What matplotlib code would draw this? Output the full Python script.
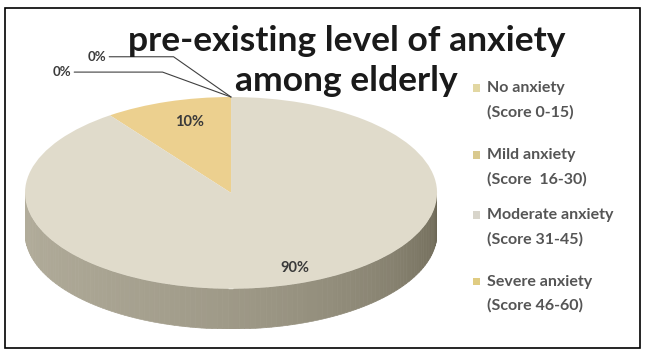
import numpy as np
import matplotlib
matplotlib.use("Agg")
import matplotlib.pyplot as plt
from matplotlib.patches import Polygon, Rectangle

# data
levels = ["No anxiety\n(Score 0-15)", "Mild anxiety\n(Score  16-30)",
          "Moderate anxiety\n(Score 31-45)", "Severe anxiety\n(Score 46-60)"]
shares = [0, 10, 90, 0]
colors = ["#e6d9a6", "#ecd08f", "#e0dbcb", "#e8cf86"]
legend_colors = ["#e2d7a2", "#d9c98e", "#d8d5cb", "#e0cc82"]

plt.rcParams["font.family"] = ["Lato", "DejaVu Sans"]

fig = plt.figure(figsize=(6.45, 3.55), dpi=100)
fig.patch.set_facecolor("white")
fig.patches.append(Rectangle((0.008, 0.02), 0.984, 0.958, transform=fig.transFigure,
                             fill=False, ec="black", lw=1.2))

ax = fig.add_axes([0.0388, 0.0732, 0.6388, 0.6535])
depth = 0.42

wedges, texts = ax.pie(shares, colors=colors, startangle=90, counterclock=True,
                       radius=1, wedgeprops=dict(linewidth=0))
ax.set_aspect("auto")
ax.set_xlim(-1, 1)
ax.set_ylim(-1 - depth, 1)
ax.axis("off")

# side of the disc, shaded strips
th = np.linspace(np.pi, 2 * np.pi, 120)
for i in range(len(th) - 1):
    a, b = th[i], th[i + 1]
    t = (i + 0.5) / (len(th) - 1)
    shade = 0.68 - 0.12 * t - 0.16 * t ** 3
    c = (shade + 0.02, shade, shade - 0.07)
    poly = Polygon([(np.cos(a), np.sin(a)), (np.cos(b), np.sin(b)),
                    (np.cos(b), np.sin(b) - depth), (np.cos(a), np.sin(a) - depth)],
                   closed=True, fc=c, ec=c, lw=0.5, zorder=0)
    ax.add_patch(poly)

# labels on the slices
lab_kw = dict(fontsize=10.5, fontweight="bold", color="#3a3a3a", ha="center", va="center")
ax.text(-0.2, 0.74, "10%", **lab_kw)
ax.text(0.31, -0.78, "90%", **lab_kw)
line_kw = dict(arrowstyle="-", color="#404040", lw=0.8, shrinkA=0, shrinkB=0)
ax.annotate("0%", xy=(0, 1), xytext=(-0.82, 1.26), ha="center", va="center",
            arrowprops=dict(connectionstyle="angle,angleA=0,angleB=-20,rad=0", **line_kw),
            fontsize=9.5, fontweight="bold", color="#3a3a3a", annotation_clip=False)
ax.annotate("0%", xy=(0, 1), xytext=(-0.65, 1.42), ha="center", va="center",
            arrowprops=dict(connectionstyle="angle,angleA=0,angleB=-35,rad=0", **line_kw),
            fontsize=9.5, fontweight="bold", color="#3a3a3a", annotation_clip=False)

title_kw = dict(ha="center", va="center", fontsize=25.5, fontweight="bold", color="#1a1a1a")
fig.text(0.537, 0.885, "pre-existing level of anxiety", **title_kw)
fig.text(0.537, 0.772, "among elderly", **title_kw)

# legend
pair_y = [0.717, 0.528, 0.359, 0.172]
for lab, c, y in zip(levels, legend_colors, pair_y):
    fig.patches.append(Rectangle((0.733, y + 0.024), 0.011, 0.022, transform=fig.transFigure,
                                 fc=c, ec="none"))
    fig.text(0.755, y, lab, ha="left", va="center", fontsize=11.5,
             fontweight="bold", color="#555555", linespacing=1.85)

fig.savefig("out.png", dpi=100)
